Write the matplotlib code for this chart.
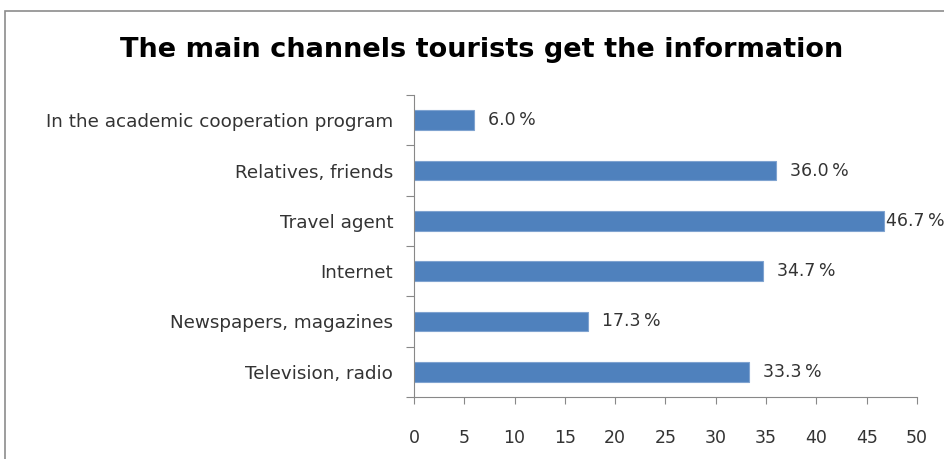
import matplotlib
matplotlib.use("Agg")
import matplotlib.pyplot as plt
from matplotlib.patches import Rectangle

categories = ["Television, radio", "Newspapers, magazines", "Internet",
              "Travel agent", "Relatives, friends", "In the academic cooperation program"]
values = [33.3, 17.3, 34.7, 46.7, 36.0, 6.0]
xticks = [0, 5, 10, 15, 20, 25, 30, 35, 40, 45, 50]
title = "The main channels tourists get the information"

plt.rcParams['font.family'] = ['DejaVu Sans']

fig = plt.figure(figsize=(9.45, 4.59), dpi=100)
fig.patch.set_facecolor("white")
# chart border
fig.add_artist(Rectangle((5/945, -0.05), 1.0, 1 - 11/459 + 0.05, transform=fig.transFigure,
                         fill=False, edgecolor="#8c8c8c", linewidth=1.2))

ax = fig.add_axes([414/945, 1 - 397/459, (917 - 414)/945, (397 - 95)/459])
ypos = list(range(len(categories)))
ax.barh(ypos, values, height=0.39, color="#4F81BD", edgecolor="#7FA3D0", linewidth=0.8)
ax.set_xlim(0, 50)
ax.set_ylim(-0.5, len(categories) - 0.5)
ax.set_xticks(xticks)
ax.set_xticklabels([str(t) for t in xticks], fontsize=12.5, color="#333333")
ax.set_yticks([y - 0.5 for y in ypos] + [len(categories) - 0.5])
ax.set_yticklabels([])
ax.set_yticks(ypos, minor=True)
ax.set_yticklabels(categories, minor=True, fontsize=13.2, color="#333333")
ax.tick_params(axis='y', which='minor', length=0, pad=15)
ax.tick_params(axis='y', which='major', length=6, color="#888888", direction='out')
ax.tick_params(axis='x', length=5, color="#888888", direction='out', pad=18)
for s in ['top', 'right']:
    ax.spines[s].set_visible(False)
for s in ['left', 'bottom']:
    ax.spines[s].set_color("#888888")

for y, v in zip(ypos, values):
    off = 0.2 if v > 45 else 1.4
    ax.text(v + off, y, f"{v:.1f}\u2009%", va='center', ha='left', fontsize=12.5, color="#333333",
            clip_on=False)

fig.text(482/945, 1 - 50/459, title, ha='center', va='center',
         fontsize=19.5, fontweight='bold', color="black")

fig.savefig("out.png", dpi=100)
